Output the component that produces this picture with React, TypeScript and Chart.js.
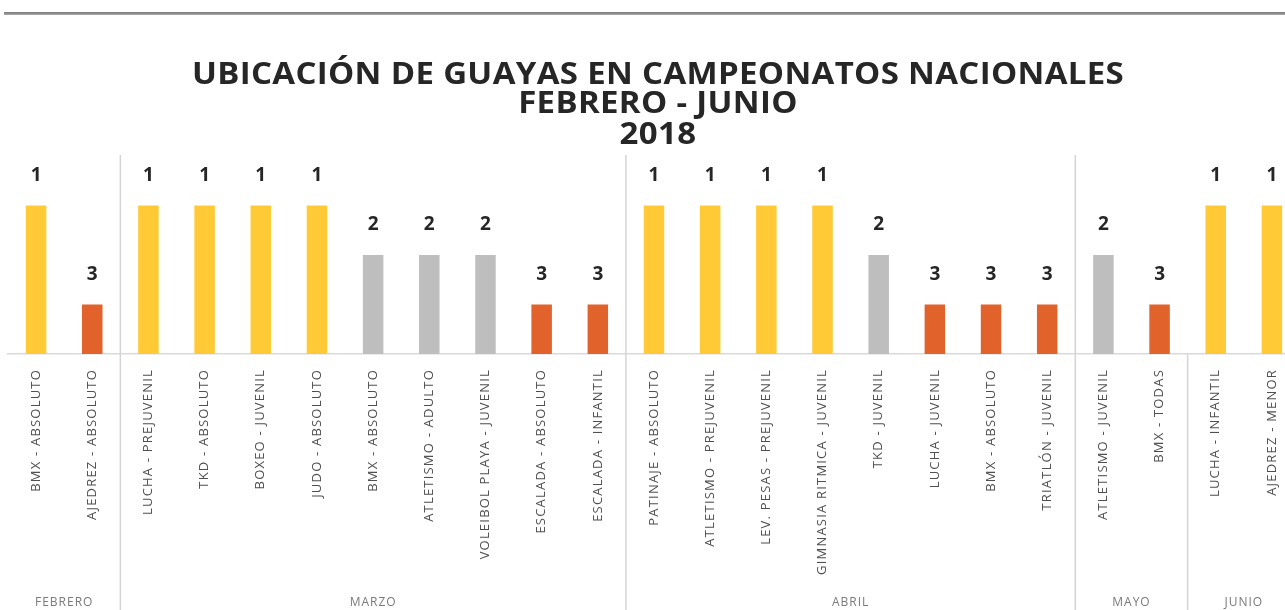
import React, { useEffect, useRef } from "react";
import { Chart, registerables } from "chart.js";

Chart.register(...registerables);

const titleLines = ["UBICACIÓN DE GUAYAS EN CAMPEONATOS NACIONALES", "FEBRERO - JUNIO", "2018"];

const categories = [
  "BMX - ABSOLUTO",
  "AJEDREZ - ABSOLUTO",
  "LUCHA - PREJUVENIL",
  "TKD - ABSOLUTO",
  "BOXEO - JUVENIL",
  "JUDO - ABSOLUTO",
  "BMX - ABSOLUTO",
  "ATLETISMO - ADULTO",
  "VOLEIBOL PLAYA - JUVENIL",
  "ESCALADA - ABSOLUTO",
  "ESCALADA - INFANTIL",
  "PATINAJE - ABSOLUTO",
  "ATLETISMO - PREJUVENIL",
  "LEV. PESAS - PREJUVENIL",
  "GIMNASIA RITMICA - JUVENIL",
  "TKD - JUVENIL",
  "LUCHA - JUVENIL",
  "BMX - ABSOLUTO",
  "TRIATLÓN - JUVENIL",
  "ATLETISMO - JUVENIL",
  "BMX - TODAS",
  "LUCHA - INFANTIL",
  "AJEDREZ - MENOR",
];

// place obtained (1st, 2nd, 3rd)
const ranks = [1, 3, 1, 1, 1, 1, 2, 2, 2, 3, 3, 1, 1, 1, 1, 2, 3, 3, 3, 2, 3, 1, 1];

const months = ["FEBRERO", "MARZO", "ABRIL", "MAYO", "JUNIO"];
const monthSizes = [2, 9, 8, 2, 2];
const dividerInPlot = [true, true, true, false];

const rankColors: Record<number, string> = { 1: "#FFCA36", 2: "#BEBEBE", 3: "#E2622B" };

// bar height: 1st place tallest
const barHeights = ranks.map((r) => 4 - r);

const spacingPlugin = {
  id: "spacing",
  beforeDraw(chart: any) {
    (chart.ctx as any).letterSpacing = "1.2px";
  },
  beforeDatasetsDraw(chart: any) {
    (chart.ctx as any).letterSpacing = "0px";
  },
};

const overlayPlugin = {
  id: "overlay",
  afterDatasetsDraw(chart: any) {
    const ctx = chart.ctx;
    const meta = chart.getDatasetMeta(0);
    const xs = chart.scales.x;
    const area = chart.chartArea;
    ctx.save();

    // title (slightly stretched horizontally)
    const cxTitle = (area.left + area.right) / 2 + 4;
    const lineYs = [75, 104, 135];
    ctx.save();
    ctx.translate(cxTitle, 0);
    ctx.scale(1.1, 1);
    ctx.letterSpacing = "0.3px";
    ctx.font = "bold 30px 'Open Sans'";
    ctx.fillStyle = "#262626";
    ctx.textAlign = "center";
    ctx.textBaseline = "middle";
    titleLines.forEach((t, i) => ctx.fillText(t, 0, lineYs[i]));
    ctx.restore();

    ctx.textAlign = "center";
    ctx.textBaseline = "middle";
    ctx.letterSpacing = "0px";

    // value labels
    ctx.font = "bold 19px 'Open Sans'";
    ctx.fillStyle = "#262626";
    meta.data.forEach((bar: any, i: number) => {
      ctx.fillText(String(ranks[i]), bar.x, bar.y - 30);
    });

    // month groups
    let start = 0;
    monthSizes.forEach((n, g) => {
      const first = start;
      const last = start + n - 1;
      const cx = (xs.getPixelForValue(first) + xs.getPixelForValue(last)) / 2;
      ctx.font = "12px 'Open Sans'";
      ctx.letterSpacing = "1px";
      ctx.fillStyle = "#7a7a7a";
      ctx.fillText(months[g], cx, chart.height - 7);
      ctx.letterSpacing = "0px";
      if (g < monthSizes.length - 1) {
        const bx = (xs.getPixelForValue(last) + xs.getPixelForValue(last + 1)) / 2;
        const topY = dividerInPlot[g] ? area.top - 1 : area.bottom;
        ctx.strokeStyle = "#d4d4d4";
        ctx.lineWidth = 1.5;
        ctx.beginPath();
        ctx.moveTo(bx, topY);
        ctx.lineTo(bx, chart.height);
        ctx.stroke();
      }
      start += n;
    });
    ctx.restore();
  },
};

export default function App() {
  const ref = useRef<HTMLCanvasElement | null>(null);

  useEffect(() => {
    if (!ref.current) return;
    const chart = new Chart(ref.current, {
      type: "bar",
      data: {
        labels: categories,
        datasets: [
          {
            data: barHeights,
            backgroundColor: ranks.map((r) => rankColors[r]),
            barPercentage: 0.365,
            categoryPercentage: 1,
          },
        ],
      },
      options: {
        responsive: false,
        animation: false,
        layout: { padding: { left: 8, right: 10, top: 156, bottom: 0 } },
        plugins: {
          legend: { display: false },
          tooltip: { enabled: false },
          title: { display: false },
        },
        scales: {
          x: {
            grid: { display: false },
            border: { display: true, color: "#d9d9d9", width: 1.5 },
            ticks: {
              autoSkip: false,
              minRotation: 90,
              maxRotation: 90,
              padding: 7,
              color: "#4f4f4f",
              font: { family: "'Open Sans'", size: 13 },
            },
            afterFit: (scale: any) => {
              scale.height = 256;
            },
          },
          y: {
            display: false,
            min: 0,
            max: 4,
          },
        },
      },
      plugins: [spacingPlugin, overlayPlugin],
    });
    return () => chart.destroy();
  }, []);

  return (
    <div
      style={{
        position: "fixed",
        left: 0,
        top: 0,
        width: 1285,
        height: 610,
        overflow: "hidden",
        background: "#fff",
      }}
    >
      <div
        style={{
          position: "absolute",
          left: 4,
          right: 0,
          top: 12,
          height: 3,
          background: "linear-gradient(#7a7a7a, #a8a8a8)",
        }}
      />
      <canvas ref={ref} width={1310} height={610} style={{ position: "absolute", left: 0, top: 0 }} />
    </div>
  );
}
